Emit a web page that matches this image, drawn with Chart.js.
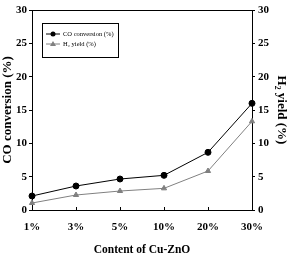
<!DOCTYPE html>
<html><head><meta charset="utf-8">
<script src="https://cdn.jsdelivr.net/npm/chart.js@4/dist/chart.umd.min.js"></script>
<style>html,body{margin:0;padding:0;background:#fff}#wrap{width:291px;height:257px}</style>
</head><body><div id="wrap"><canvas id="c" width="291" height="257"></canvas></div>
<script>
const categories = ['1%', '3%', '5%', '10%', '20%', '30%'];
const coConversion = [2.1, 3.6, 4.65, 5.2, 8.65, 16.0];
const h2Yield = [1.05, 2.25, 2.85, 3.25, 5.85, 13.3];
const yTicks = [0, 5, 10, 15, 20, 25, 30];
const seriesLabels = ['CO conversion (%)', 'H\u2082 yield (%)'];

const FONT = '"Liberation Serif", "Times New Roman", serif';

const framePlugin = {
  id: 'frame',
  afterDraw(chart) {
    const ctx = chart.ctx, a = chart.chartArea;
    ctx.save();
    ctx.strokeStyle = '#000';
    ctx.lineWidth = 1;
    ctx.beginPath();
    ctx.moveTo(a.left, a.top + 0.5); ctx.lineTo(a.right, a.top + 0.5);
    ctx.stroke();
    // inward x ticks
    const xs = chart.scales.x;
    ctx.beginPath();
    categories.forEach((c, i) => {
      const px = Math.round(xs.getPixelForValue(i)) + 0.5;
      ctx.moveTo(px, a.bottom); ctx.lineTo(px, a.bottom - 3);
    });
    ctx.stroke();
    // legend
    const lx = 42, ly = 23, lw = 76, lh = 34;
    ctx.fillStyle = '#fff';
    ctx.fillRect(lx, ly, lw, lh);
    ctx.strokeRect(lx + 0.5, ly + 0.5, lw, lh);
    chart.data.datasets.forEach((ds, i) => {
      const yy = ly + 11 + i * 10;
      ctx.strokeStyle = ds.borderColor;
      ctx.fillStyle = ds.backgroundColor;
      ctx.beginPath(); ctx.moveTo(lx + 4, yy); ctx.lineTo(lx + 18, yy); ctx.stroke();
      ctx.beginPath();
      if (ds.pointStyle === 'triangle') {
        ctx.moveTo(lx + 11, yy - 3); ctx.lineTo(lx + 14, yy + 2); ctx.lineTo(lx + 8, yy + 2); ctx.closePath();
      } else {
        ctx.arc(lx + 11, yy, 2.5, 0, Math.PI * 2);
      }
      ctx.fill();
      ctx.fillStyle = '#000';
      ctx.font = '6.5px ' + FONT;
      ctx.textBaseline = 'middle';
      ctx.fillText(ds.label, lx + 21, yy);
    });
    ctx.restore();
  }
};

new Chart(document.getElementById('c'), {
  type: 'line',
  data: {
    labels: categories,
    datasets: [
      { label: seriesLabels[0], data: coConversion, borderColor: '#000', backgroundColor: '#000',
        borderWidth: 1, pointStyle: 'circle', pointRadius: 3, pointBackgroundColor: '#000', pointBorderColor: '#000', yAxisID: 'y' },
      { label: seriesLabels[1], data: h2Yield, borderColor: '#808080', backgroundColor: '#808080',
        borderWidth: 1, pointStyle: 'triangle', pointRadius: 3, pointBackgroundColor: '#808080', pointBorderColor: '#808080', yAxisID: 'y' }
    ]
  },
  options: {
    responsive: false,
    animation: false,
    devicePixelRatio: 1,
    layout: { padding: { top: 10, left: 0, right: 0, bottom: 0 } },
    plugins: { legend: { display: false }, tooltip: { enabled: false } },
    scales: {
      x: {
        type: 'category', offset: false,
        border: { display: true, color: '#000', width: 1 },
        grid: { display: false, drawTicks: false },
        ticks: { color: '#000', font: { family: FONT, size: 11, weight: 'bold' }, padding: 11, maxRotation: 0, autoSkip: false },
        title: { display: true, text: 'Content of Cu-ZnO', color: '#000', font: { family: FONT, size: 11.5, weight: 'bold' }, padding: { top: 6, bottom: 0 } },
        afterFit(s) { s.height = 47; }
      },
      y: {
        position: 'left', min: 0, max: 30,
        afterBuildTicks(s) { s.ticks = yTicks.map(v => ({ value: v })); },
        border: { display: true, color: '#000', width: 1 },
        grid: { display: true, drawOnChartArea: false, drawTicks: true, tickLength: 3, color: '#000' },
        ticks: { color: '#000', font: { family: FONT, size: 11, weight: 'bold' }, padding: 2 },
        title: { display: true, text: 'CO conversion (%)', color: '#000', font: { family: FONT, size: 13, weight: 'bold' }, padding: { top: 0, bottom: 2 } },
        afterFit(s) { s.width = 32; }
      },
      y2: {
        position: 'right', min: 0, max: 30,
        afterBuildTicks(s) { s.ticks = yTicks.map(v => ({ value: v })); },
        border: { display: true, color: '#000', width: 1 },
        grid: { display: true, drawOnChartArea: false, drawTicks: true, tickLength: 3, color: '#000' },
        ticks: { color: '#000', font: { family: FONT, size: 11, weight: 'bold' }, padding: 3 },
        title: { display: true, text: 'H\u2082 yield (%)', color: '#000', font: { family: FONT, size: 13, weight: 'bold' }, padding: { top: 2, bottom: 0 } },
        afterFit(s) { s.width = 39; }
      }
    }
  },
  plugins: [framePlugin]
});
</script>
</body></html>
